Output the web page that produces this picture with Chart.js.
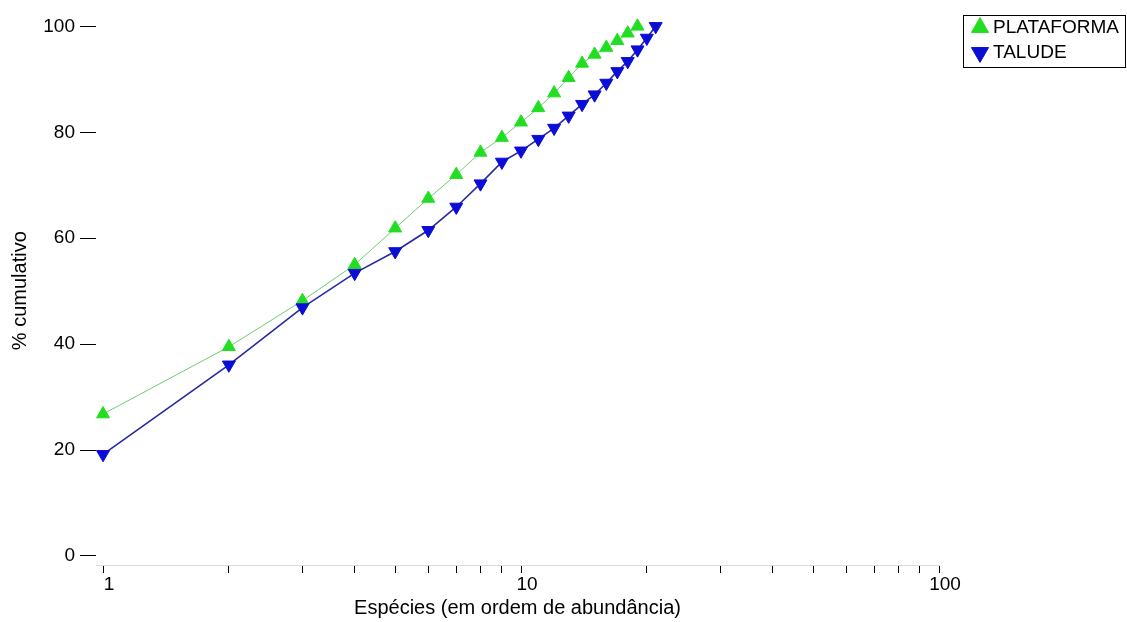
<!DOCTYPE html>
<html><head><meta charset="utf-8">
<script src="https://cdn.jsdelivr.net/npm/chart.js@4/dist/chart.umd.min.js"></script>
<style>html,body{margin:0;padding:0;background:#fff;overflow:hidden;}</style>
</head><body>
<canvas id="c" width="1127" height="622"></canvas>
<script>
// ---- data ----
const ranksPlataforma = [1,2,3,4,5,6,7,8,9,10,11,12,13,14,15,16,17,18,19];
const plataforma = [26.8,39.5,48.2,55.0,61.9,67.5,72.0,76.2,79.0,81.9,84.6,87.4,90.3,93.0,94.7,96.0,97.3,98.7,100];
const ranksTalude = [1,2,3,4,5,6,7,8,9,10,11,12,13,14,15,16,17,18,19,20,21];
const talude = [19.2,36.1,46.9,53.4,57.5,61.5,65.9,70.3,74.4,76.5,78.7,80.8,83.1,85.3,87.1,89.3,91.5,93.4,95.6,97.8,100];
const yTickValues = [0,20,40,60,80,100];
const xTickValues = [1,2,3,4,5,6,7,8,9,10,20,30,40,50,60,70,80,90,100];
const xTickLabels = [1,10,100];
const seriesNames = ['PLATAFORMA','TALUDE'];
const xTitle = 'Espécies (em ordem de abundância)';
const yTitle = '% cumulativo';

Chart.defaults.font.family = "'Liberation Sans', Arial, sans-serif";
Chart.defaults.color = '#000';

const toPoints = (xs, ys) => xs.map((x, i) => ({x: x, y: ys[i]}));

const legendTweak = {
  id: 'legendTweak',
  afterInit(chart) {
    const lg = chart.legend;
    const f = lg.fit.bind(lg);
    lg.fit = function () { f(); this.width = 188; };
  },
  afterLayout(chart) {
    const lg = chart.legend;
    const dx = 970.5 - lg.left;
    lg.left += dx; lg.right += dx;
  },
  afterDraw(chart) {
    const lg = chart.legend, ctx = chart.ctx;
    ctx.save();
    ctx.strokeStyle = '#000';
    ctx.lineWidth = 1;
    ctx.strokeRect(Math.round(lg.left - 7.5) + 0.5, 15.5, 162, 52);
    ctx.restore();
  }
};

new Chart(document.getElementById('c'), {
  type: 'line',
  data: {
    datasets: [
      {
        label: seriesNames[0],
        data: toPoints(ranksPlataforma, plataforma),
        borderColor: 'rgb(110,205,110)',
        borderWidth: 1,
        pointStyle: 'triangle',
        pointRadius: 7.5,
        pointBackgroundColor: 'rgb(34,222,34)',
        pointBorderColor: 'rgb(34,222,34)',
        pointBorderWidth: 1,
        order: 2,
        clip: false,
        tension: 0
      },
      {
        label: seriesNames[1],
        data: toPoints(ranksTalude, talude),
        borderColor: 'rgb(40,40,160)',
        borderWidth: 1.6,
        pointStyle: 'triangle',
        pointRotation: 180,
        pointRadius: 7.5,
        pointBackgroundColor: 'rgb(12,12,215)',
        pointBorderColor: 'rgb(12,12,215)',
        pointBorderWidth: 1,
        order: 1,
        clip: false,
        tension: 0
      }
    ]
  },
  options: {
    responsive: false,
    devicePixelRatio: 1,
    animation: false,
    layout: { padding: { top: 12, left: 0, right: 0, bottom: 0 } },
    plugins: {
      tooltip: { enabled: false },
      legend: {
        position: 'right',
        align: 'start',
        labels: {
          usePointStyle: true,
          boxWidth: 7,
          boxHeight: 14,
          padding: 6,
          color: '#000',
          font: { size: 19 },
          sort: (a, b) => a.datasetIndex - b.datasetIndex
        }
      }
    },
    scales: {
      x: {
        type: 'logarithmic',
        min: 0.962,
        max: 100,
        afterBuildTicks: s => { s.ticks = xTickValues.map(v => ({ value: v })); },
        afterFit: s => { s.height = 57; },
        grid: { drawOnChartArea: false, drawTicks: true, tickLength: 8, color: '#000', lineWidth: 1 },
        border: { display: true, color: '#dcdcdc', width: 1 },
        ticks: {
          autoSkip: false, maxRotation: 0, minRotation: 0, padding: 0, labelOffset: 6,
          color: '#000', font: { size: 19 },
          callback: v => xTickLabels.includes(v) ? String(v) : ''
        },
        title: { display: true, text: xTitle, color: '#000', font: { size: 20 }, padding: { top: 0, bottom: 2 } }
      },
      y: {
        type: 'linear',
        min: -1.7,
        max: 101.88,
        afterBuildTicks: s => { s.ticks = yTickValues.map(v => ({ value: v })); },
        afterFit: s => { s.width = 96; },
        grid: { drawOnChartArea: false, drawTicks: true, tickLength: 16, color: '#000', lineWidth: 1 },
        border: { display: false },
        ticks: { padding: 5, color: '#000', font: { size: 19 } },
        title: { display: true, text: yTitle, color: '#000', font: { size: 20 }, padding: { top: 8, bottom: 0 } }
      }
    }
  },
  plugins: [legendTweak]
});
</script>
</body></html>
